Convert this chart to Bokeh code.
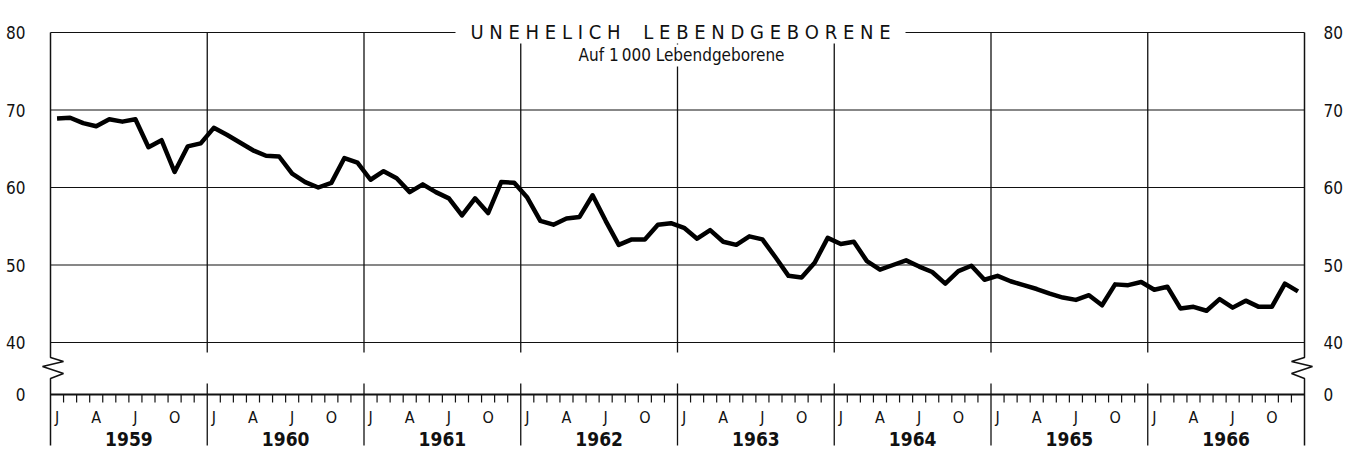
from bokeh.plotting import figure
from bokeh.models import Range1d, ColumnDataSource
from bokeh.core.properties import value
from bokeh.embed import file_html
from bokeh.resources import INLINE

# ---------------- data ----------------
years = [1959, 1960, 1961, 1962, 1963, 1964, 1965, 1966]
month_letters = ["J", "A", "J", "O"]          # labels for Jan, Apr, Jul, Oct
month_label_idx = [0, 3, 6, 9]
y_ticks = [40, 50, 60, 70, 80]
title = "U N E H E L I C H \u00a0\u00a0\u00a0L E B E N D G E B O R E N E"
subtitle = "Auf 1\u2009000 Lebendgeborene"

v1959 = [68.9, 69.0, 68.3, 67.9, 68.8, 68.5, 68.8, 65.2, 66.1, 62.0, 65.3, 65.7]
v1960 = [67.7, 66.8, 65.8, 64.8, 64.1, 64.0, 61.8, 60.7, 60.0, 60.6, 63.8, 63.2]
v1961 = [61.0, 62.1, 61.2, 59.4, 60.4, 59.4, 58.6, 56.4, 58.6, 56.7, 60.7, 60.6]
v1962 = [58.7, 55.7, 55.2, 56.0, 56.2, 59.0, 55.7, 52.6, 53.3, 53.3, 55.2, 55.4]
v1963 = [54.8, 53.4, 54.5, 53.0, 52.6, 53.7, 53.3, 51.0, 48.6, 48.4, 50.3, 53.5]
v1964 = [52.7, 53.0, 50.5, 49.4, 50.0, 50.6, 49.8, 49.1, 47.6, 49.2, 49.9, 48.1]
v1965 = [48.6, 47.9, 47.4, 46.9, 46.3, 45.8, 45.5, 46.1, 44.8, 47.5, 47.4, 47.8]
v1966 = [46.8, 47.2, 44.4, 44.6, 44.1, 45.6, 44.5, 45.4, 44.6, 44.6, 47.6, 46.6]

series = v1959 + v1960 + v1961 + v1962 + v1963 + v1964 + v1965 + v1966
xs = [y + (m + 0.5) / 12 for y in years for m in range(12)]

# ---------------- geometry (screen pixels -> data) ----------------
W, H = 1344, 448
ORIGIN = 0
X_LEFT_PX, X_RIGHT_PX = 50, 1304
PXY = (X_RIGHT_PX - X_LEFT_PX) / len(years)
Y80_PX, PPU = 32, 7.75
x0, x1 = years[0], years[-1] + 1


def px2x(px):
    return x0 + (px - X_LEFT_PX) / PXY


def py2y(py):
    return 80 - (py - Y80_PX) / PPU


ZERO_Y = py2y(394)

p = figure(width=W, height=H, output_backend="svg", toolbar_location=None,
           x_range=Range1d(px2x(ORIGIN), px2x(ORIGIN + W)),
           y_range=Range1d(py2y(ORIGIN + H), py2y(ORIGIN)),
           min_border=0)
p.axis.visible = False
p.grid.visible = False
p.outline_line_color = None
p.background_fill_color = "white"

FONT = value("'Liberation Sans Narrow', 'DejaVu Sans Condensed', 'Liberation Sans', sans-serif")
INK = "#111111"

# horizontal grid lines
p.segment(x0=[x0] * len(y_ticks), x1=[x1] * len(y_ticks), y0=y_ticks, y1=y_ticks,
          line_color=INK, line_width=1.2)

# vertical year lines (upper and lower part)
inner = years[1:]
p.segment(x0=inner, x1=inner, y0=[80] * len(inner), y1=[py2y(352)] * len(inner),
          line_color=INK, line_width=1.3)
p.segment(x0=inner, x1=inner, y0=[py2y(383)] * len(inner), y1=[py2y(445)] * len(inner),
          line_color=INK, line_width=1.3)

# frame with axis-break zigzags
for xe, sgn in ((x0, 1), (x1, -1)):
    fx = [xe, xe, xe + sgn * 13 / PXY, xe - sgn * 8 / PXY, xe + sgn * 13 / PXY, xe, xe]
    fy = [80, py2y(357), py2y(361), py2y(366), py2y(373), py2y(378), py2y(445)]
    p.line(fx, fy, line_color=INK, line_width=1.5)

# zero baseline
p.segment(x0=[x0], x1=[x1], y0=[ZERO_Y], y1=[ZERO_Y], line_color=INK, line_width=2.2)

# month ticks
tick_x = [y + m / 12 for y in years for m in range(1, 12)]
p.segment(x0=tick_x, x1=tick_x, y0=[ZERO_Y] * len(tick_x), y1=[py2y(402)] * len(tick_x),
          line_color=INK, line_width=1.2)

# month letters
ml_x = [y + (m + 0.5) / 12 for y in years for m in month_label_idx]
ml_t = [month_letters[i] for _ in years for i in range(4)]
p.text(x=ml_x, y=[py2y(417)] * len(ml_x), text=ml_t, text_font=FONT,
       text_font_size="16px", text_align="center", text_baseline="middle", text_color=INK)

# year labels
p.text(x=[y + 0.5 for y in years], y=[py2y(438)] * len(years), text=[str(y) for y in years],
       text_font=FONT, text_font_size="19px", text_font_style="bold",
       text_align="center", text_baseline="middle", text_color=INK)

# data line
src = ColumnDataSource(dict(x=xs, y=series))
p.line("x", "y", source=src, line_color="black", line_width=4.5, line_join="round")

# white boxes behind title and subtitle
p.quad(left=[px2x(455), px2x(570)], right=[px2x(905), px2x(792)],
       top=[py2y(20), py2y(44)], bottom=[py2y(43), py2y(66)],
       fill_color="white", line_color=None)

p.text(x=[px2x(680)], y=[py2y(31)], text=[title], text_font=FONT, text_font_size="20px",
       text_align="center", text_baseline="middle", text_color=INK)
p.text(x=[px2x(681)], y=[py2y(54)], text=[subtitle], text_font=FONT, text_font_size="17px",
       text_align="center", text_baseline="middle", text_color=INK)

# y labels left and right
lab_y = y_ticks + [ZERO_Y]
lab_t = [str(v) for v in y_ticks] + ["0"]
p.text(x=[px2x(25)] * len(lab_y), y=lab_y, text=lab_t, text_font=FONT, text_font_size="17px",
       text_align="right", text_baseline="middle", text_color=INK)
p.text(x=[px2x(1323)] * len(lab_y), y=lab_y, text=lab_t, text_font=FONT, text_font_size="17px",
       text_align="left", text_baseline="middle", text_color=INK)

open("out.html", "w").write(file_html(p, INLINE))
